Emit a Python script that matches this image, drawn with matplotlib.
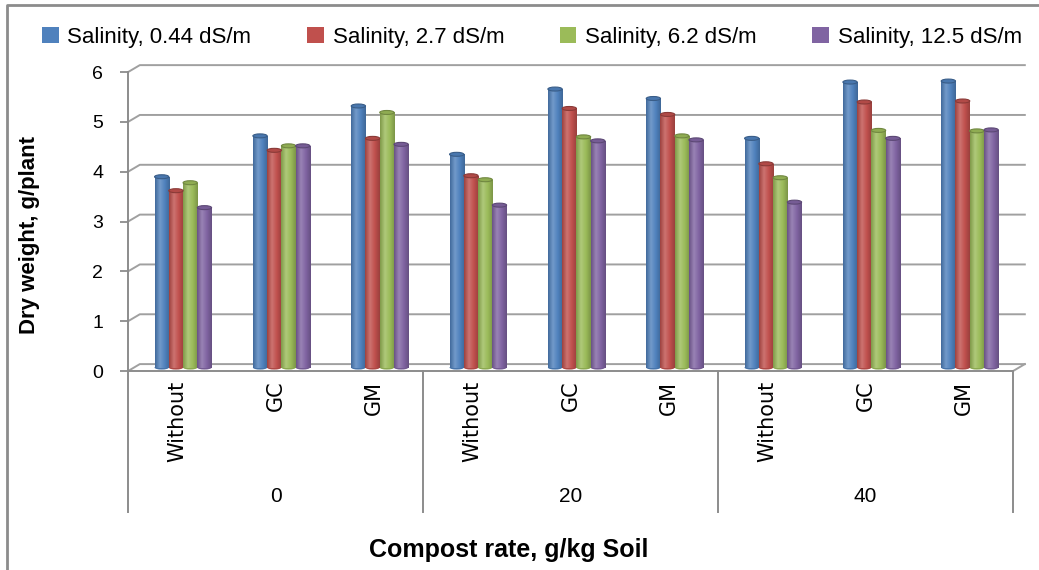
#!/usr/bin/env python
# Dry weight vs compost rate / type under four salinity levels
import numpy as np
import matplotlib
matplotlib.use("Agg")
from matplotlib import pyplot as plt
from matplotlib import transforms
from matplotlib.colors import LinearSegmentedColormap, to_rgb
from matplotlib.lines import Line2D
from matplotlib.patches import Ellipse, Patch

plt.rcParams['font.family'] = ['Liberation Sans', 'DejaVu Sans']

# data
compost_types = ['Without', 'GC', 'GM']
compost_rates = ['0', '20', '40']
series_names = ['Salinity, 0.44 dS/m', 'Salinity, 2.7 dS/m',
                'Salinity, 6.2 dS/m', 'Salinity, 12.5 dS/m']
sal_044 = [3.83, 4.65, 5.25, 4.28, 5.59, 5.40, 4.60, 5.73, 5.75]
sal_27 = [3.55, 4.36, 4.60, 3.85, 5.20, 5.08, 4.09, 5.33, 5.35]
sal_62 = [3.71, 4.45, 5.12, 3.77, 4.63, 4.65, 3.81, 4.76, 4.75]
sal_125 = [3.21, 4.45, 4.48, 3.26, 4.55, 4.57, 3.32, 4.60, 4.77]
colors = ['#4F81BD', '#C0504D', '#9BBB59', '#8064A2']

values = [sal_044, sal_27, sal_62, sal_125]
ncat = len(sal_044)
GRID = '#a0a0a0'


def shade(c, f):
    r = np.array(to_rgb(c))
    if f < 1:
        return tuple(r * f)
    return tuple(r + (1 - r) * (f - 1))


fig = plt.figure(figsize=(10.39, 5.70), dpi=100)
# outer chart frame (left and top edges only are visible)
fig.add_artist(Line2D([0.0067, 0.0067, 1.0], [0.0, 0.991, 0.991], transform=fig.transFigure,
                      color='#8c8c8c', linewidth=2))

ax = fig.add_axes([0.1232, 0.349, 0.8518, 0.5245])
x = np.arange(ncat)
width = 0.145
dx, dy = 0.12, 0.14  # depth offset of the back wall

# cylinder-like bars, placed at mid depth
grad = np.linspace(0, 1, 64).reshape(1, -1)
for i, (vals, c) in enumerate(zip(values, colors)):
    cmap = LinearSegmentedColormap.from_list(
        f's{i}', [shade(c, 0.82), shade(c, 1.2), c, shade(c, 0.8)])
    bars = ax.bar(x + (i - 1.5) * width + dx / 2, vals, width=width, bottom=dy / 2,
                  color=c, zorder=3)
    for b in bars:
        x0, w, y0, h = b.get_x(), b.get_width(), b.get_y(), b.get_height()
        b.set_visible(False)
        ax.imshow(grad, extent=[x0, x0 + w, y0, y0 + h], cmap=cmap, aspect='auto',
                  zorder=3, interpolation='bilinear')
        ax.add_patch(Ellipse((x0 + w / 2, y0 + h), w, 0.08, facecolor=shade(c, 0.92),
                             edgecolor=shade(c, 0.72), linewidth=0.8, zorder=4))
        ax.add_patch(Ellipse((x0 + w / 2, y0), w, 0.08, facecolor=shade(c, 0.9),
                             edgecolor='none', zorder=2.9))

ax.set_xlim(-0.5, ncat - 0.5)
ax.set_ylim(0, 6)
ax.set_yticks(range(0, 7))
ax.tick_params(axis='y', labelsize=14, length=6, color='#8c8c8c', width=1.3, pad=12)

# back wall gridlines and floor
for y in range(0, 7):
    ax.plot([-0.5, -0.5 + dx, ncat - 0.5 + dx], [y, y + dy, y + dy], color=GRID,
            linewidth=1.4, zorder=1, clip_on=False)
ax.plot([ncat - 0.5, ncat - 0.5 + dx], [0, dy], color=GRID, linewidth=1.4, clip_on=False)

for s in ['top', 'right']:
    ax.spines[s].set_visible(False)
for s in ['left', 'bottom']:
    ax.spines[s].set_color('#8c8c8c')
    ax.spines[s].set_linewidth(1.4)

# category labels
ax.set_xticks(x)
ax.set_xticklabels(compost_types * 3, rotation=90, fontsize=15,
                   family=['DejaVu Sans'], va='top')
ax.tick_params(axis='x', length=0, pad=7)

trans = transforms.blended_transform_factory(ax.transData, ax.transAxes)
for k in range(4):
    ax.plot([k * 3 - 0.5] * 2, [0, -0.472], transform=trans, color='#8c8c8c',
            linewidth=1.4, clip_on=False)
for k, r in enumerate(compost_rates):
    ax.text(k * 3 + 1, -0.421, r, transform=trans, ha='center', va='center', fontsize=15)

ax.set_ylabel('Dry weight, g/plant', fontsize=16, fontweight='bold')
ax.yaxis.set_label_coords(-0.10, 0.455)
fig.text(0.49, 0.035, 'Compost rate, g/kg Soil', ha='center', va='center',
         fontsize=18, fontweight='bold')

handles = [Patch(facecolor=c, edgecolor='none') for c in colors]
fig.legend(handles, series_names, loc='center', bbox_to_anchor=(0.512, 0.935), ncol=4,
           frameon=False, fontsize=16, handlelength=0.75, handleheight=0.75,
           handletextpad=0.4, columnspacing=2.5)

fig.savefig('out.png', dpi=100)
